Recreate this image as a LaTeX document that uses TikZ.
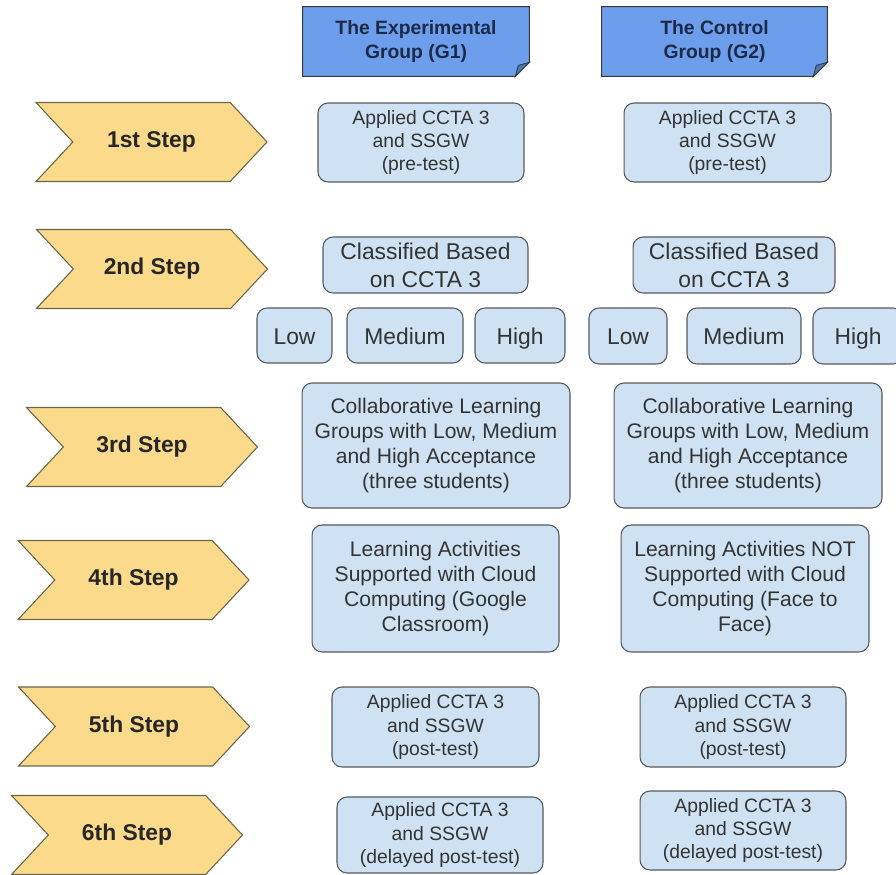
\documentclass[tikz,border=0pt]{standalone}
\usepackage{fontspec}
\setmainfont{Liberation Sans}
\usepackage{xcolor}
\usetikzlibrary{shapes.symbols,calc}

\definecolor{headblue}{HTML}{6D9EEB}
\definecolor{foldblue}{HTML}{4A76BE}
\definecolor{headtext}{HTML}{1B2A49}
\definecolor{headline}{HTML}{3A3A3A}
\definecolor{boxfill}{HTML}{CFE2F3}
\definecolor{boxline}{HTML}{55585C}
\definecolor{boxtext}{HTML}{333333}
\definecolor{stepfill}{HTML}{FCDA8B}
\definecolor{stepline}{HTML}{6A6448}

\tikzset{
  grouphead/.style={fill=headblue, text=headtext, align=center, inner sep=0pt,
    minimum height=1.38cm, font=\bfseries\fontsize{11}{13.5}\selectfont},
  stepbox/.style={signal, signal from=west, signal to=east, signal pointer angle=94,
    draw=stepline, fill=stepfill, line width=0.6pt, inner sep=0pt,
    minimum width=4.62cm, minimum height=1.58cm,
    text=black!85, font=\bfseries\fontsize{13}{15}\selectfont},
  actbox/.style={rounded corners=0.2cm, draw=boxline, fill=boxfill, line width=0.6pt,
    align=center, inner sep=0pt, text=boxtext, font=\fontsize{11}{13.3}\selectfont},
  bigtext/.style={font=\fontsize{12}{14.2}\selectfont},
  classtext/.style={font=\fontsize{13}{16}\selectfont},
  levelbox/.style={actbox, classtext, text height=12.5pt, text depth=2.7pt},
}

\begin{document}
\begin{tikzpicture}[x=0.02cm, y=-0.02cm]
    \useasboundingbox[fill=white] (0,0) rectangle (896,875);

    % group headers with a folded corner
    \node[grouphead, minimum width=4.52cm] (g1) at (416,41.5) {The Experimental\\Group (G1)};
    \node[grouphead, minimum width=4.5cm] (g2) at (714.5,41.5) {The Control\\Group (G2)};
    \foreach \g in {g1,g2}{
        \fill[white] ($(\g.south east)+(-14,0)$) -- (\g.south east) -- ($(\g.south east)+(0,-14)$) -- cycle;
        \draw[headline, line width=0.6pt] (\g.north west) -- (\g.north east)
            -- ($(\g.south east)+(0,-14)$) -- ($(\g.south east)+(-14,0)$) -- (\g.south west) -- cycle;
        \filldraw[fill=foldblue, draw=headline, line width=0.5pt] ($(\g.south east)+(0,-14)$)
            -- ($(\g.south east)+(-14,0)$) -- ($(\g.south east)+(-11,-11)$) -- cycle;
    }

    % steps
    \node[stepbox] (s1) at (151.5,142) {1st Step};
    \node[stepbox] (s2) at (152,269) {2nd Step};
    \node[stepbox] (s3) at (142,447) {3rd Step};
    \node[stepbox] (s4) at (133.5,580) {4th Step};
    \node[stepbox] (s5) at (134,726.5) {5th Step};
    \node[stepbox] (s6) at (127,835) {6th Step};

    % experimental group
    \node[actbox, minimum width=4.12cm, minimum height=1.58cm] (e1) at (421,142.5) {Applied CCTA 3\\and SSGW\\(pre-test)};
    \node[actbox, classtext, minimum width=4.1cm, minimum height=1.12cm] (e2) at (425.5,265) {Classified Based\\on CCTA 3};
    \node[levelbox, minimum width=1.5cm, minimum height=1.1cm] (elow) at (294.5,335.5) {Low};
    \node[levelbox, minimum width=2.32cm, minimum height=1.1cm] (emed) at (405,335.5) {Medium};
    \node[levelbox, minimum width=1.8cm, minimum height=1.1cm] (ehigh) at (520,335.5) {High};
    \node[actbox, bigtext, minimum width=5.36cm, minimum height=2.5cm] (e3) at (436,445.5) {Collaborative Learning\\Groups with Low, Medium\\and High Acceptance\\(three students)};
    \node[actbox, bigtext, minimum width=4.94cm, minimum height=2.54cm] (e4) at (435.5,588.5) {Learning Activities\\Supported with Cloud\\Computing (Google\\Classroom)};
    \node[actbox, minimum width=4.14cm, minimum height=1.6cm] (e5) at (435.5,727) {Applied CCTA 3\\and SSGW\\(post-test)};
    \node[actbox, minimum width=4.12cm, minimum height=1.52cm] (e6) at (440,835) {Applied CCTA 3\\and SSGW\\(delayed post-test)};

    % control group
    \node[actbox, minimum width=4.14cm, minimum height=1.58cm] (c1) at (727.5,142.5) {Applied CCTA 3\\and SSGW\\(pre-test)};
    \node[actbox, classtext, minimum width=4.04cm, minimum height=1.12cm] (c2) at (734,265) {Classified Based\\on CCTA 3};
    \node[levelbox, minimum width=1.56cm, minimum height=1.12cm] (clow) at (628,336) {Low};
    \node[levelbox, minimum width=2.28cm, minimum height=1.12cm] (cmed) at (744,336) {Medium};
    \node[levelbox, minimum width=1.8cm, minimum height=1.12cm] (chigh) at (858,336) {High};
    \node[actbox, bigtext, minimum width=5.36cm, minimum height=2.5cm] (c3) at (748,445.5) {Collaborative Learning\\Groups with Low, Medium\\and High Acceptance\\(three students)};
    \node[actbox, bigtext, minimum width=4.96cm, minimum height=2.54cm] (c4) at (745,588.5) {Learning Activities NOT\\Supported with Cloud\\Computing (Face to\\Face)};
    \node[actbox, minimum width=4.12cm, minimum height=1.6cm] (c5) at (743,727) {Applied CCTA 3\\and SSGW\\(post-test)};
    \node[actbox, minimum width=4.12cm, minimum height=1.58cm] (c6) at (743,830.5) {Applied CCTA 3\\and SSGW\\(delayed post-test)};

\end{tikzpicture}
\end{document}
